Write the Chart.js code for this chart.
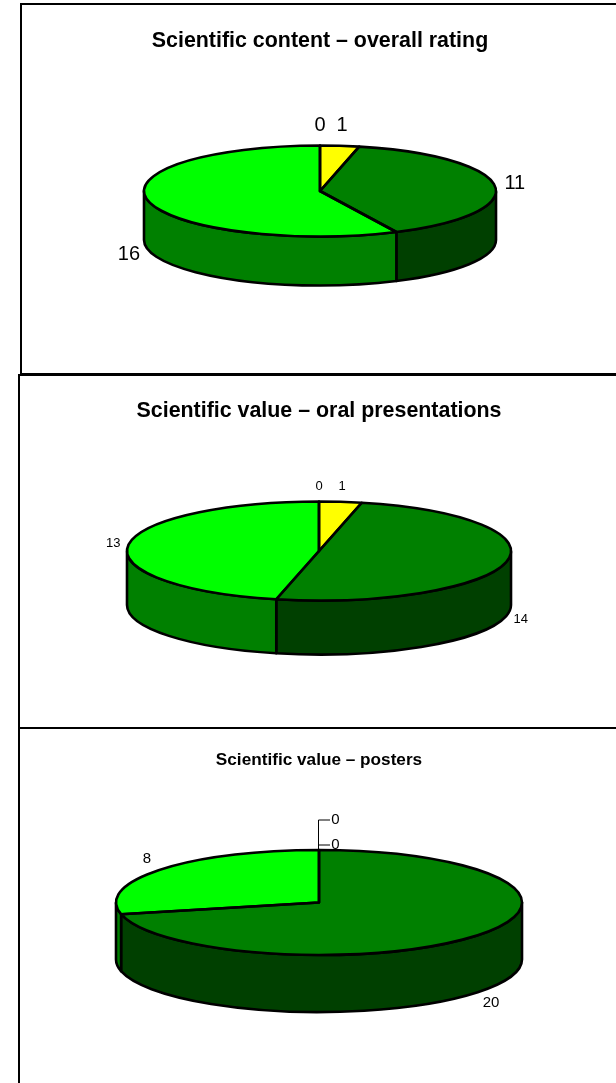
<!DOCTYPE html>
<html>
<head>
    <title>Scientific ratings</title>
    <script src="https://cdn.jsdelivr.net/npm/chart.js"></script>
    <style>
        html, body { margin: 0; padding: 0; background: #fff; overflow: hidden; }
        .frame { position: absolute; box-sizing: border-box; width: 700px; border: solid #000; border-width: 2px 0 2px 2px; }
        canvas { position: absolute; left: 0; }
    </style>
</head>
<body>
    <div class="frame" style="left:20px;top:3px;height:372px"></div>
    <div class="frame" style="left:18px;top:374px;height:355px"></div>
    <div class="frame" style="left:18px;top:727px;height:400px"></div>
    <canvas id="c1" width="616" height="375" style="top:0"></canvas>
    <canvas id="c2" width="616" height="353" style="top:375px"></canvas>
    <canvas id="c3" width="616" height="355" style="top:728px"></canvas>
    <script>
        const categories = ['Poor', 'Fair', 'Good', 'Very good'];
        const overallRating = [0, 1, 11, 16];
        const oralPresentations = [0, 1, 14, 13];
        const posters = [0, 0, 20, 8];

        const topColours = ['#ff0000', '#ffff00', '#008000', '#00ff00'];
        const sideColours = ['#800000', '#808000', '#004000', '#008000'];

        // draws the wall under the pie, squashes the pie, then outlines and labels it
        const pie3d = {
            id: 'pie3d',
            beforeDatasetsDraw(chart, args, opts) {
                const ctx = chart.ctx;
                const arcs = chart.getDatasetMeta(0).data;
                const cx = arcs[0].x, cy = arcs[0].y, rx = arcs[0].outerRadius, ry = rx * opts.squash;
                ctx.save();
                ctx.lineWidth = 2.6;
                ctx.strokeStyle = '#000';
                ctx.lineJoin = 'round';
                arcs.forEach((arc, i) => {
                    // only the front half of the ellipse shows a wall
                    const twoPi = Math.PI * 2;
                    for (let k = -1; k <= 1; k++) {
                        const a0 = Math.max(arc.startAngle, k * twoPi);
                        const a1 = Math.min(arc.endAngle, k * twoPi + Math.PI);
                        if (a1 <= a0) continue;
                        ctx.beginPath();
                        ctx.ellipse(cx, cy, rx, ry, 0, a0, a1);
                        ctx.ellipse(cx, cy + opts.depth, rx, ry, 0, a1, a0, true);
                        ctx.closePath();
                        ctx.fillStyle = sideColours[i];
                        ctx.fill();
                        ctx.stroke();
                    }
                });
                ctx.restore();
                ctx.save();
                ctx.translate(cx, cy);
                ctx.scale(1, opts.squash);
                ctx.translate(-cx, -cy);
            },
            afterDatasetsDraw(chart, args, opts) {
                const ctx = chart.ctx;
                ctx.restore();
                const arcs = chart.getDatasetMeta(0).data;
                const values = chart.data.datasets[0].data;
                const cx = arcs[0].x, cy = arcs[0].y, rx = arcs[0].outerRadius, ry = rx * opts.squash;
                ctx.save();
                ctx.lineWidth = 2.6;
                ctx.strokeStyle = '#000';
                ctx.lineJoin = 'round';
                arcs.forEach((arc, i) => {
                    if (!values[i]) return;
                    ctx.beginPath();
                    ctx.moveTo(cx, cy);
                    ctx.ellipse(cx, cy, rx, ry, 0, arc.startAngle, arc.endAngle);
                    ctx.closePath();
                    ctx.stroke();
                });
                ctx.fillStyle = '#000';
                ctx.font = opts.labelSize + 'px "Liberation Sans"';
                ctx.textAlign = 'center';
                ctx.textBaseline = 'middle';
                arcs.forEach((arc, i) => {
                    const mid = (arc.startAngle + arc.endAngle) / 2;
                    const c = Math.cos(mid), s = Math.sin(mid);
                    const ex = cx + rx * c, ey = cy + ry * s + (s > 0 ? opts.depth : 0);
                    const leader = opts.leaders && opts.leaders[i];
                    if (leader) {
                        // small slices that the labels had to be pulled away from
                        ctx.lineWidth = 1;
                        ctx.beginPath();
                        ctx.moveTo(Math.round(ex) - 0.5, ey);
                        ctx.lineTo(Math.round(ex) - 0.5, ey + leader.dy);
                        ctx.lineTo(ex + leader.dx, ey + leader.dy);
                        ctx.stroke();
                        ctx.fillText(values[i], ex + leader.dx + 5.5, ey + leader.dy);
                    } else {
                        ctx.fillText(values[i], ex + c * opts.gap, ey + s * opts.gap);
                    }
                });
                ctx.restore();
            }
        };

        function drawPie(id, values, title, titleSize, box, opts) {
            // title block height, so the chart area stays centred on the pie
            const titleBlock = titleSize * 1.2 + box.titleTop;
            new Chart(document.getElementById(id), {
                type: 'pie',
                data: {
                    labels: categories,
                    datasets: [{
                        data: values,
                        backgroundColor: topColours,
                        borderWidth: 0
                    }]
                },
                options: {
                    responsive: false,
                    animation: false,
                    radius: box.rx,
                    layout: {
                        padding: {
                            left: 2 * box.cx - 616,
                            right: 0,
                            top: 0,
                            bottom: box.height - (2 * box.cy - titleBlock)
                        }
                    },
                    plugins: {
                        legend: { display: false },
                        tooltip: { enabled: false },
                        title: {
                            display: true,
                            text: title,
                            color: '#000',
                            font: { family: '"Liberation Sans"', size: titleSize, weight: 'bold', lineHeight: 1.2 },
                            padding: { top: box.titleTop, bottom: 0 }
                        },
                        pie3d: opts
                    }
                },
                plugins: [pie3d]
            });
        }

        drawPie('c1', overallRating, 'Scientific content – overall rating', 21.4,
            { cx: 320, cy: 191, rx: 176, height: 375, titleTop: 28 },
            { squash: 45.5 / 176, depth: 49, gap: 20, labelSize: 20 });
        drawPie('c2', oralPresentations, 'Scientific value – oral presentations', 21.4,
            { cx: 319, cy: 176, rx: 192, height: 353, titleTop: 23.5 },
            { squash: 49.5 / 192, depth: 54, gap: 15, labelSize: 13 });
        drawPie('c3', posters, 'Scientific value – posters', 17.2,
            { cx: 319, cy: 174.5, rx: 203, height: 355, titleTop: 22 },
            { squash: 52.5 / 203, depth: 57, gap: 17, labelSize: 15, leaders: { 0: { dx: 11, dy: -30 }, 1: { dx: 11, dy: -5 } } });
    </script>
</body>
</html>
